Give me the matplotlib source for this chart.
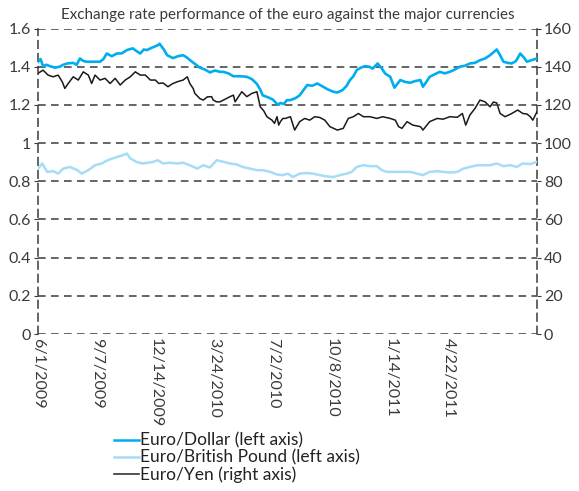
import matplotlib
matplotlib.use("Agg")
import matplotlib.pyplot as plt
from matplotlib.lines import Line2D
from matplotlib.ticker import FormatStrFormatter

plt.rcParams['font.family'] = ['Lato', 'DejaVu Sans']

# trading-day index (0 = 6/1/2009)
tick_days = [0, 70, 140, 210, 280, 350, 420, 490]
tick_labels = ['6/1/2009', '9/7/2009', '12/14/2009', '3/24/2010',
               '7/2/2010', '10/8/2010', '1/14/2011', '4/22/2011']

usd_days = [0, 3, 6, 10, 14, 20, 26, 30, 35, 42, 46, 50, 54, 58, 66, 74, 78, 82,
            88, 94, 100, 106, 113, 118, 122, 126, 130, 134, 139, 143, 145, 150,
            154, 161, 167, 173, 177, 181, 187, 193, 199, 205, 211, 217, 221, 227,
            233, 241, 249, 255, 261, 265, 268, 274, 280, 286, 289, 293, 297, 301,
            307, 312, 317, 321, 327, 333, 340, 346, 352, 357, 363, 368, 372, 376,
            380, 385, 390, 395, 399, 405, 410, 414, 420, 425, 432, 438, 444, 450,
            456, 459, 463, 467, 473, 479, 485, 491, 497, 503, 509, 515, 521, 527,
            533, 539, 543, 547, 551, 555, 560, 565, 570, 575, 579, 583, 589, 595]
usd = [1.425, 1.44, 1.403, 1.41, 1.403, 1.395, 1.40, 1.41, 1.417, 1.42, 1.41,
       1.443, 1.43, 1.426, 1.426, 1.426, 1.44, 1.469, 1.455, 1.469, 1.47, 1.487,
       1.496, 1.48, 1.469, 1.49, 1.487, 1.496, 1.505, 1.513, 1.52, 1.49,
       1.46, 1.445, 1.455, 1.46, 1.45, 1.435, 1.415, 1.395, 1.385, 1.37, 1.38,
       1.373, 1.373, 1.365, 1.35, 1.35, 1.347, 1.335, 1.31, 1.28, 1.25, 1.24,
       1.228, 1.20, 1.21, 1.205, 1.225, 1.225, 1.235, 1.25, 1.28, 1.304, 1.30,
       1.312, 1.295, 1.28, 1.269, 1.265, 1.277, 1.30, 1.33, 1.35, 1.382, 1.395,
       1.403, 1.40, 1.39, 1.417, 1.39, 1.364, 1.347, 1.29, 1.33, 1.32, 1.316,
       1.325, 1.33, 1.295, 1.32, 1.347, 1.36, 1.373, 1.365, 1.373, 1.385, 1.40,
       1.405, 1.417, 1.42, 1.434, 1.443, 1.46, 1.475, 1.49, 1.46, 1.426, 1.42,
       1.417, 1.43, 1.469, 1.45, 1.426, 1.435, 1.443]

gbp_days = [0, 5, 11, 18, 24, 30, 38, 47, 52, 60, 68, 76, 83, 94, 101, 106, 110,
            118, 125, 136, 143, 149, 157, 166, 173, 181, 190, 197, 205, 213, 221,
            229, 237, 244, 253, 261, 268, 277, 285, 292, 298, 304, 312, 321, 328,
            336, 345, 352, 360, 368, 374, 380, 388, 396, 404, 410, 416, 426, 434,
            444, 452, 459, 467, 476, 483, 491, 500, 507, 515, 524, 531, 539, 547,
            555, 563, 571, 578, 587, 595]
gbp = [0.866, 0.893, 0.849, 0.853, 0.84, 0.866, 0.875, 0.858, 0.84, 0.858,
       0.884, 0.893, 0.91, 0.927, 0.936, 0.945, 0.92, 0.90, 0.893, 0.90, 0.91,
       0.893, 0.897, 0.893, 0.897, 0.884, 0.866, 0.884, 0.872, 0.91, 0.902,
       0.893, 0.888, 0.875, 0.866, 0.858, 0.858, 0.849, 0.835, 0.832, 0.84,
       0.822, 0.84, 0.843, 0.84, 0.832, 0.825, 0.822, 0.832, 0.84, 0.849, 0.875,
       0.884, 0.879, 0.879, 0.858, 0.849, 0.849, 0.849, 0.849, 0.84, 0.832,
       0.849, 0.853, 0.849, 0.846, 0.849, 0.866, 0.875, 0.884, 0.884, 0.884,
       0.893, 0.879, 0.884, 0.875, 0.893, 0.89, 0.902]

jpy_days = [0, 6, 12, 18, 24, 29, 32, 36, 42, 48, 54, 60, 64, 68, 74, 80, 86, 92,
            98, 104, 110, 116, 122, 128, 134, 140, 144, 149, 155, 160, 166, 173,
            178, 181, 185, 187, 193, 197, 202, 207, 209, 213, 217, 221, 229, 233,
            235, 243, 249, 255, 261, 265, 269, 273, 279, 282, 285, 287, 289, 292,
            295, 301, 306, 312, 318, 324, 330, 336, 342, 348, 357, 364, 370, 376,
            382, 388, 396, 404, 411, 420, 426, 430, 434, 440, 447, 456, 459, 467,
            476, 483, 491, 500, 506, 510, 515, 521, 527, 533, 539, 543, 547, 551,
            557, 565, 572, 578, 583, 587, 590, 595]
jpy = [136.5, 138.2, 135.6, 134.7, 135.6, 132, 128.6, 131.2, 134.7, 133, 137.3,
       135.6, 131.2, 135.6, 133, 133.9, 131.2, 133.9, 130.4, 133, 134.7, 137.3,
       135.6, 135.6, 133, 133, 131.2, 131.5, 129.5, 131, 132.1, 133, 134.7, 131.2,
       128.6, 126, 123.3, 122.5, 124.2, 124.3, 122.5, 121.6, 121.6, 122.5, 124.3,
       125.1, 121.6, 126.9, 124.3, 126, 126.9, 119, 117, 113.8, 112, 110.3, 113.8,
       109.4, 111.2, 112.9, 112.9, 113.8, 106.8, 111.2, 112.9, 112, 113.8, 113.4,
       112, 108.6, 106.8, 107.7, 112.9, 113.8, 115.5, 113.8, 113.8, 112.9, 113.8,
       112.9, 112, 108.6, 107.7, 111.2, 109.4, 108.6, 106.8, 111.2, 112.9, 112.5,
       113.8, 113.5, 115.5, 109.4, 114.7, 118.1, 122.5, 121.6, 119, 121.5, 121,
       115.5, 113.8, 115.5, 117.3, 115.5, 115.2, 113.8, 112, 116.4]

grid_col = '#3a3a3a'
text_col = '#3a3a3a'
dash = (0, (5, 3.5))

fig = plt.figure(figsize=(5.79, 4.91), dpi=100)
ax = fig.add_axes([38 / 579, 1 - 334 / 491, (537 - 38) / 579, (334 - 28.5) / 491])
ax2 = ax.twinx()

ax.plot(gbp_days, gbp, color='#a6dcf5', lw=1.8, zorder=3)
ax2.plot(jpy_days, jpy, color='#1a1a1a', lw=1.1, zorder=3)
ax.plot(usd_days, usd, color='#00aeef', lw=1.9, zorder=4)
ax.set_zorder(ax2.get_zorder() + 1)
ax.patch.set_visible(False)

ax.set_xlim(0, 595)
ax.set_ylim(0, 1.6)
ax2.set_ylim(0, 160)
ax.set_yticks([i * 0.2 for i in range(9)])
ax2.set_yticks(range(0, 161, 20))
ax.yaxis.set_major_formatter(FormatStrFormatter('%g'))

ax.yaxis.grid(True, linestyle=dash, color=grid_col, lw=1.1)
for a in (ax, ax2):
    for s in ('top', 'bottom'):
        a.spines[s].set_visible(False)
    for s in ('left', 'right'):
        a.spines[s].set_linestyle(dash)
        a.spines[s].set_color(grid_col)
        a.spines[s].set_linewidth(1.1)
ax.spines['right'].set_visible(False)
ax2.spines['left'].set_visible(False)

ax.tick_params(axis='y', length=3, color=grid_col, labelsize=11.5,
               labelcolor=text_col, pad=2)
ax2.tick_params(axis='y', length=3, color=grid_col, labelsize=11.5,
                labelcolor=text_col, pad=2)

ax.set_xticks(tick_days)
ax.set_xticklabels(tick_labels, rotation=-90, ha='center', va='top')
ax.tick_params(axis='x', length=0, labelsize=11.5, labelcolor=text_col, pad=3)

fig.text(288 / 579, 1 - 15 / 491,
         'Exchange rate performance of the euro against the major currencies',
         ha='center', va='center', fontsize=10.9, color=text_col)

handles = [Line2D([], [], color='#00aeef', lw=1.8),
           Line2D([], [], color='#a6dcf5', lw=1.8),
           Line2D([], [], color='#333333', lw=1.2)]
labels = ['Euro/Dollar (left axis)', 'Euro/British Pound (left axis)',
          'Euro/Yen (right axis)']
fig.legend(handles, labels, loc='upper left',
           bbox_to_anchor=(105 / 579, 1 - 424 / 491), frameon=False,
           handlelength=1.45, handletextpad=0.05, labelspacing=0.05,
           borderpad=0, prop={'size': 12.5}, labelcolor='#222222')

fig.savefig('out.png', dpi=100)
